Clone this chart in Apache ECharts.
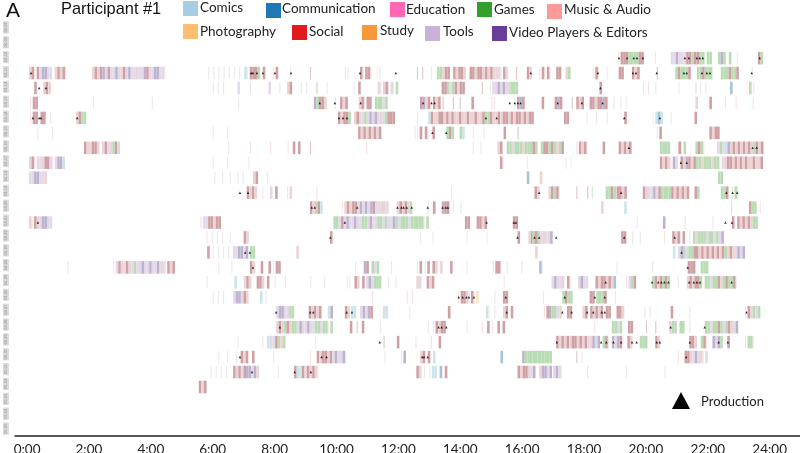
<!DOCTYPE html>
<html>
<head>
<meta charset="utf-8">
<style>
  html, body { margin: 0; padding: 0; background: #fff; }
  #main { width: 800px; height: 453px; }
</style>
<script src="https://cdn.jsdelivr.net/npm/echarts@6/dist/echarts.min.js"></script>
</head>
<body>
<div id="main"></div>
<script>
// app categories, letter = the code used in the day rows below
const legendNames = ['Comics', 'Communication', 'Education', 'Games', 'Music & Audio', 'Photography', 'Social', 'Study', 'Tools', 'Video Players & Editors']
const legendColors = ['#a6cee3', '#1f78b4', '#ff69b4', '#33a02c', '#fb9a99', '#fdbf6f', '#e31a1c', '#f89838', '#cab2d6', '#6a3d9a']
const catCodes = ['C', 'K', 'E', 'G', 'M', 'P', 'S', 'Y', 'T', 'V']
// the strips are washed out in the picture, legend colours are not
const stripColors = ['#cbe6ea', '#a3c4d8', '#f5c4dd', '#b9dcb4', '#ecd3d4', '#fbe4c2', '#cfa0a4', '#f8d6b2', '#e3d9e9', '#bdb3cf']

const dayLabels = ['04-08', '04-09', '04-10', '04-11', '04-12', '04-13', '04-14', '04-15', '04-16', '04-17', '04-18', '04-19', '04-20', '04-21', '04-22', '04-23', '04-24', '04-25', '04-26', '04-27', '04-28', '04-29', '04-30', '05-01', '05-02', '05-03', '05-04', '05-05']
const hourTicks = [0, 2, 4, 6, 8, 10, 12, 14, 16, 18, 20, 22, 24]

// one 5 minute slot per letter, '.' nothing used, lower case = only a short use in that slot
const slotHours = 1 / 12

const row02 = [[19.1, 'mSSSGGGGSS'], [20.29, 'm'], [20.8, 'TTVTTTSSGSSGGgGG'], [22.33, 'GVG'], [22.68, 'G'], [22.94, 'c'], [23.62, 'SG']]
const row03 = [[0.06, 'MSmSTVVTT.MSMSm.'], [2.1, 'MSMSVTSTTVTMSTVTTMTTVSTTVVTTm'], [5.85, 't.t.t.t.t.t.t.Ccm'], [7.2, 'SSSG.S'], [7.95, 'mS'], [8.5, 'm'], [9.14, 's'], [10.27, 'mm'], [10.76, 'SmSSm'], [11.3, 'pt.'], [12.6, 's.s'], [13.05, 't'], [13.25, 'GGMSS'], [13.77, 'SMSSM'], [14.3, 'SSMSSMSMSMMTmST.'], [15.8, 's'], [16.15, 'SM'], [16.55, 'mSmSm'], [17.1, 'SS.'], [17.4, 'MG'], [18.28, 'mSm'], [18.73, 'c'], [19.12, 'SS'], [19.55, 'SMS'], [20.35, 's'], [20.95, 'GSGGGS'], [21.65, 'GGSGGG'], [22.42, 'GGGSGGS'], [23.42, 't']]
const row04 = [[0.23, 'S'], [0.52, 'MSM'], [6.0, 't.t.t'], [6.8, 'T'], [7.2, 't'], [7.8, 'T'], [8.15, 't'], [8.4, 'MS'], [8.85, 't.t'], [9.35, 's'], [9.68, 't'], [10.55, 't'], [10.7, 'S'], [11.33, 'TmMSmTmG'], [13.4, 'SSGTGSMSS'], [14.7, 's'], [14.95, 'mTTVTVTMGGG'], [18.5, 'S'], [19.9, 't.m'], [20.3, 'm'], [21.05, 't'], [21.6, 'g'], [21.75, 't.m'], [22.72, 'K'], [23.25, 'pG'], [23.47, 'm']]
const row05 = [[0.1, 'mSS'], [2.13, 't'], [4.03, 't'], [6.82, 't'], [9.27, 'VGSSM'], [9.95, 'm.SMS'], [10.72, 'MSmSS'], [11.24, 'GGGTG'], [12.7, 'SVMSmSMS'], [13.43, 's'], [13.76, 's'], [13.98, 's'], [14.36, 'S'], [15.0, 'mm'], [15.75, 'mSKS'], [16.63, 'S'], [17.05, 'SVS'], [17.6, 's'], [17.75, 'SMS'], [18.18, 'SSMSSVS'], [18.95, 't'], [19.18, 't.t'], [21.6, 'M'], [22.05, 'S'], [22.55, 'm'], [22.9, 'm'], [23.45, 'm']]
const row06 = [[0.1, 'mSS.SS'], [0.74, 't'], [1.58, 'MSGG'], [10.05, 'SMSSG'], [10.56, 'MSMTGTVTVTMTGSSS'], [12.6, 't'], [12.96, 'CSMMSSMSMSMMSMMSMMSMMSGGSMMSMSSMSMSSMSMSS'], [17.35, 'SS'], [18.08, 't'], [18.38, 'm'], [18.73, 'm'], [19.3, 'S'], [20.22, 'pCKC'], [20.8, 't'], [21.57, 'S']]
const row07 = [[0.33, 't'], [0.8, 't'], [6.0, 't'], [6.46, 't'], [10.7, 'SMSMSMSMS'], [12.52, 'tmSmSm'], [13.1, 'S'], [13.55, 'GSG'], [13.98, 'GC'], [14.4, 't'], [14.75, 't'], [15.4, 'S'], [15.85, 's'], [20.35, 'mS'], [22.05, 'SMSS']]
const row08 = [[1.84, 'SMMSSM'], [2.42, 'MSTMGSM'], [6.5, 't'], [7.2, 'm'], [7.85, 'm'], [8.42, 'm.S.S'], [9.14, 's'], [10.95, 'm'], [14.4, 't'], [14.65, 't'], [15.2, 'MS'], [15.5, 'GGTGGGMGGGSG'], [16.6, 'GSSGSGMGS'], [17.75, 'mSMS'], [18.6, 'S'], [19.12, 'SMSMS'], [20.45, 'GGGG'], [21.05, 'SmG'], [21.6, 'GSGm'], [22.3, 'TGTCVMSMSMSMSMGSMS']]
const row09 = [[0.06, 'MSmTTMSSTmTVVC'], [6.0, 't'], [6.46, 't'], [7.15, 'm'], [15.28, 'Sm'], [16.15, 't'], [17.4, 't.p'], [20.45, 'SMSMmVT.SMVSMSGGMGGGMGGmTMSSMSMSMSMMSMMS']]
const row10 = [[0.06, 'TTVVTTM'], [6.05, 't..t..t..t.t'], [7.3, 'MS'], [7.75, 't'], [16.15, 'K'], [16.57, 'M'], [22.33, 'GG']]
const row11 = [[7.1, 'SMSM'], [7.6, 't'], [7.85, 'T.S'], [8.4, 'mM.'], [9.35, 'm'], [13.7, 't'], [16.4, 'SM'], [16.85, 'MSGSt'], [17.75, 's'], [18.1, 's'], [18.25, 'g'], [18.7, 'GGSG'], [19.05, 'SSMS'], [19.9, 'SMTTVTSGGGGSMSMSMS'], [21.57, 'SG'], [22.42, 'GGS'], [22.78, 'gGm']]
const row12 = [[9.14, 'SMGSC'], [10.17, 'mMSMSSTVTVTVSTTMMTm'], [11.95, 'MSMSMG'], [12.95, 't.S'], [13.4, 'VSS'], [13.76, 't..m'], [18.55, 'M'], [19.3, 'C'], [22.75, 'g'], [23.33, 'SGG'], [23.68, 'm']]
const row13 = [[0.06, 'MmSMTVVTT'], [5.6, 'mTTSSMSS'], [9.9, 'GGTSTVTTVTTGGTVTTGGTGTTVGTGGGTGGGGGmG'], [14.15, 'SS'], [14.53, 'SSMS.'], [15.7, 'SS'], [19.7, 't'], [20.55, 'V'], [21.25, 'm'], [22.15, 'm'], [22.78, 'S'], [22.95, 'SMSMSMGG']]
const row14 = [[5.8, 't.t.t.t..t..'], [7.0, 'SM'], [9.79, 'S'], [12.7, 't'], [13.1, 't'], [14.2, 't'], [14.85, 'p.'], [15.85, 'S'], [16.2, 'MSMSMm'], [16.32, 'GSGTMTTV.'], [19.2, 'SS'], [19.55, 'm..m'], [20.58, 'm'], [20.85, 'SMSmS'], [21.4, 't'], [21.52, 'GMGGGTGGTGTV']]
const row15 = [[5.82, 'S'], [6.0, 't.t.t.t'], [6.65, 'TTVVTV'], [7.2, 'GG'], [8.7, 'M'], [16.42, 'M'], [20.87, 'C.TVGTGGSSMSMSMSMSMSGMSMTVTV']]
const row16 = [[1.3, 't'], [2.78, 'mTSMTSMTGTTVTTVTTVTMmSMS'], [6.18, 't'], [6.6, 't'], [7.2, 'SM'], [7.55, 'S'], [7.8, 'S'], [7.95, 'mSS'], [10.6, 't'], [10.88, 'VS'], [11.13, 'GTG'], [11.76, 'm'], [12.6, 'mS.mS.SM.M'], [13.67, 'S'], [14.2, 't'], [15.05, 'mSSm'], [15.5, 't'], [15.97, 'm'], [16.55, 'Kt.'], [19.05, 't'], [20.2, 't'], [21.35, 'SSS'], [21.77, 'GGG']]
const row17 = [[5.8, 't'], [6.7, 'C'], [7.0, 'TSM'], [7.42, 'SSM'], [7.75, 'S'], [8.0, 'm'], [8.33, 't'], [9.15, 't'], [9.6, 't'], [10.33, 'mt.SM.S'], [10.95, 'TVTGGG'], [11.66, 'm..t'], [12.58, 'MT..SMS'], [15.4, 't'], [16.95, 'TVTTM.Sm'], [17.8, 'TVTT'], [18.37, 'SMSSMSMK'], [19.35, 'mTGS'], [20.2, 'GSMSGSG'], [21.03, 'm'], [21.32, 'MSMSSG'], [21.9, 'GGTGGSMGSGGSm']]
const row18 = [[6.0, 't.t.t'], [6.66, 'TVVTSM'], [7.53, 'C.t'], [11.15, 'm'], [12.27, 'm.m'], [13.93, 'mSSMmSmP'], [15.1, 'm'], [15.38, 'SS'], [16.67, 'm'], [17.3, 'GSGG'], [18.18, 'SS'], [18.4, 'GGGS'], [19.0, 'm']]
const row19 = [[8.05, 'TVVTTGG'], [9.1, 'SMSMS'], [9.72, 'CV'], [10.27, 'SM'], [10.47, 'CC'], [10.76, 'TVTVS'], [11.5, 'TC'], [12.35, 't'], [13.6, 'S'], [14.83, 'Cp'], [15.1, 'm'], [15.38, 'MS.S'], [16.7, 'mSVGGTM'], [17.45, 'SS'], [17.95, 'MS.SMSMS.SS'], [19.05, 'SSM'], [19.95, 't.t'], [20.8, 'S'], [21.4, 't'], [23.2, 'mSMGTG']]
const row20 = [[8.05, 'MSMGSMGGTVTTVTTGGTGGmG'], [10.43, 'S'], [10.65, 's.S'], [11.4, 't'], [12.95, 't.t'], [13.2, 'SMSS'], [14.2, 't'], [14.7, 'm.S.m.S.S'], [18.33, 'm'], [18.9, 'GGTG'], [19.42, 'SS'], [20.0, 's'], [20.3, 's'], [20.75, 'MGG.GG'], [21.4, 't'], [21.9, 'GGTGGSGTGSMTV']]
const row21 = [[6.8, 't'], [7.6, 'm'], [7.75, 'CC'], [7.85, 'TTSGMG'], [9.3, 't'], [11.52, 's'], [11.95, 'S'], [12.55, 'm'], [13.05, 'm'], [13.3, 'S'], [17.1, 'SMSMSMSSMSMSTMVTV'], [18.6, 'GSm'], [18.9, 'VTVS'], [19.4, 'SM'], [19.8, 'GGG.'], [20.3, 'SM'], [21.4, 'SSM'], [21.77, 'GSm'], [22.15, 'VTVG'], [22.63, 'S'], [23.2, 'mGGm']]
const row22 = [[6.18, 't'], [6.46, 'm'], [6.75, 't'], [6.9, 'SMS'], [7.27, 'S'], [7.95, 't'], [9.14, 'm'], [9.36, 'SMSSMSTVTTVm'], [11.55, 't'], [12.08, 'mV'], [12.7, 'MS.S.C'], [15.3, 'K'], [16.0, 'VGGGGGG'], [16.55, 'GGGGG'], [17.75, 's.m'], [21.03, 'm'], [21.25, 'SSMTVTMmT']]
const row23 = [[5.93, 't.t.t.t..t'], [6.66, 'SMSTSVVTVM'], [8.1, 't'], [8.63, 'SCCSMSMSMm'], [12.58, 'SM.t'], [13.0, 'cCC.K.S'], [15.85, 'SMSSMTV'], [16.55, 'MVVTV.'], [17.0, 'TVTm'], [18.1, 't'], [19.35, 't'], [20.6, 't']]
const row24 = [[5.55, 'SMS']]

// production moments per day, in hours
const made02 = [19.13, 19.39, 19.61, 19.71, 19.9, 21.26, 21.39, 21.65, 21.74, 21.84, 23.68]
const made03 = [0.13, 7.24, 7.3, 7.43, 7.62, 8.01, 8.53, 10.76, 11.92, 16.28, 18.45, 19.58, 19.68, 20.35, 21.23, 21.32, 21.81, 21.97, 22.07, 23.42]
const made04 = [0.39, 0.61, 18.53]
const made05 = [9.46, 9.95, 10.78, 12.8, 13.07, 13.17, 15.6, 15.76, 15.86, 15.95, 17.15, 17.93, 18.6]
const made06 = [0.19, 0.39, 0.45, 1.62, 10.08, 10.21, 10.34, 14.83, 15.18, 19.3, 20.45]
const made07 = [13.1, 13.55]
const made08 = [19.45, 23.45, 23.58]
const made09 = [21.13, 21.32]
const made11 = [6.88, 7.14, 16.55, 19.2, 22.6, 22.8, 22.95]
const made12 = [9.2, 9.3, 10.67, 11.97, 12.1, 12.17, 12.27, 12.43, 12.95, 13.43, 13.53, 13.6]
const made13 = [0.35, 10.27, 14.85, 15.73, 15.8, 22.57, 22.78]
const made14 = [9.8, 15.85, 16.4, 16.55, 17.1, 19.3, 20.93]
const made15 = [7.05, 7.2, 21.15]
const made16 = [7.3, 21.35]
const made17 = [18.7, 20.2, 20.4, 20.5, 20.6, 20.73, 21.4, 21.55, 21.65, 21.75, 22.77]
const made18 = [13.95, 14.08, 14.2, 14.28, 14.44, 15.47, 17.38, 18.35, 18.67]
const made19 = [8.05, 9.15, 9.25, 10.33, 10.5, 15.5, 17.3, 17.6, 18.1, 18.3, 18.57, 18.67, 23.25]
const made20 = [8.17, 13.3, 13.4, 13.55, 20.8, 21.9]
const made21 = [11.4, 17.12, 18.55, 18.72, 18.95, 19.2, 19.55, 19.7, 20.35, 20.45, 21.42, 22.35, 22.65]
const made22 = [6.88, 9.52, 9.68, 12.77, 12.83, 12.95, 21.3]
const made23 = [7.27, 8.65, 9.17]

const dayRows = { 2: row02, 3: row03, 4: row04, 5: row05, 6: row06, 7: row07, 8: row08, 9: row09, 10: row10, 11: row11, 12: row12, 13: row13, 14: row14, 15: row15, 16: row16, 17: row17, 18: row18, 19: row19, 20: row20, 21: row21, 22: row22, 23: row23, 24: row24 }
const dayMade = { 2: made02, 3: made03, 4: made04, 5: made05, 6: made06, 7: made07, 8: made08, 9: made09, 11: made11, 12: made12, 13: made13, 14: made14, 15: made15, 16: made16, 17: made17, 18: made18, 19: made19, 20: made20, 21: made21, 22: made22, 23: made23 }

let strips = []
Object.keys(dayRows).forEach(day => {
  dayRows[day].forEach(run => {
    run[1].split('').forEach((code, i) => {
      if (code == '.') return
      const cat = catCodes.indexOf(code.toUpperCase())
      // [hour, day, category, slot share]
      strips.push([run[0] + i * slotHours, +day, cat, code == code.toUpperCase() ? 1 : 0.45])
    })
  })
})

let madePoints = []
Object.keys(dayMade).forEach(day => {
  dayMade[day].forEach(h => madePoints.push([h, +day]))
})

// legend glyphs sit by hand, the original one is not on a grid
const legendSpots = [[183, 1, 200, 8], [266, 3, 282, 9], [390, 2, 406, 10], [477, 2, 494, 10], [547, 4, 564, 10], [183, 24, 200, 32], [292, 25, 309, 32], [362, 25, 380, 31], [425, 26, 443, 32], [492, 26, 509, 33]]
let graphics = []
legendNames.forEach((name, i) => {
  const s = legendSpots[i]
  graphics.push({ type: 'rect', shape: { x: s[0], y: s[1], width: 15, height: 15 }, style: { fill: legendColors[i] } })
  graphics.push({ type: 'text', x: s[2], y: s[3], style: { text: name, fill: '#222', font: '13.5px Lato', textVerticalAlign: 'middle' } })
})
graphics.push({ type: 'text', x: 6, y: 11, style: { text: 'A', fill: '#111', font: '21px "Liberation Sans"', textVerticalAlign: 'middle' } })
graphics.push({ type: 'text', x: 61, y: 9, style: { text: 'Participant #1', fill: '#111', font: '16.4px "Liberation Sans"', textVerticalAlign: 'middle' } })
graphics.push({ type: 'polygon', shape: { points: [[681, 392], [690, 409], [672, 409]] }, style: { fill: '#000' } })
graphics.push({ type: 'text', x: 701, y: 402, style: { text: 'Production', fill: '#222', font: '13px Lato', textVerticalAlign: 'middle' } })

const chart = echarts.init(document.getElementById('main'), null, { renderer: 'canvas' })
chart.setOption({
  animation: false,
  backgroundColor: '#fff',
  // v6 would shrink the grid to keep the labels inside otherwise
  grid: { left: 15, right: 0, top: 20, bottom: 17, outerBoundsMode: 'none' },
  graphic: graphics,
  xAxis: {
    type: 'value',
    min: -0.39,
    max: 24.98,
    splitLine: { show: false },
    axisTick: { show: false },
    axisLine: { show: true, onZero: false, lineStyle: { color: '#222', width: 1.5 } },
    axisLabel: {
      customValues: hourTicks,
      formatter: v => v + ':00',
      color: '#222',
      fontFamily: 'Lato',
      fontSize: 13.5,
      margin: 7
    }
  },
  yAxis: [
    {
      type: 'category',
      inverse: true,
      data: dayLabels,
      axisLine: { show: false },
      axisTick: { show: false },
      splitLine: { show: false },
      axisLabel: {
        interval: 0,
        rotate: 90,
        margin: 6,
        fontSize: 4,
        color: '#8a8a8a',
        backgroundColor: '#dcdcdc',
        padding: [1, 1]
      }
    },
    // marks run a touch wider than the day tags on the left
    { type: 'value', inverse: true, min: -0.55, max: 27.28, show: false }
  ],
  series: [
    {
      type: 'custom',
      yAxisIndex: 1,
      clip: false,
      silent: true,
      encode: { x: 0, y: 1 },
      data: strips,
      renderItem: (params, api) => {
        const start = api.coord([api.value(0), api.value(1)])
        const w = api.size([slotHours, 0])[0] * api.value(3)
        const h = api.size([0, 1])[1] * 0.84
        return {
          type: 'rect',
          shape: { x: start[0], y: start[1] - h / 2, width: w, height: h },
          style: { fill: stripColors[api.value(2)], opacity: api.value(3) < 1 ? 0.6 : 1 }
        }
      }
    },
    {
      type: 'scatter',
      yAxisIndex: 1,
      silent: true,
      symbol: 'triangle',
      symbolSize: 2.5,
      itemStyle: { color: '#000' },
      data: madePoints,
      z: 5
    }
  ]
})
</script>
</body>
</html>
